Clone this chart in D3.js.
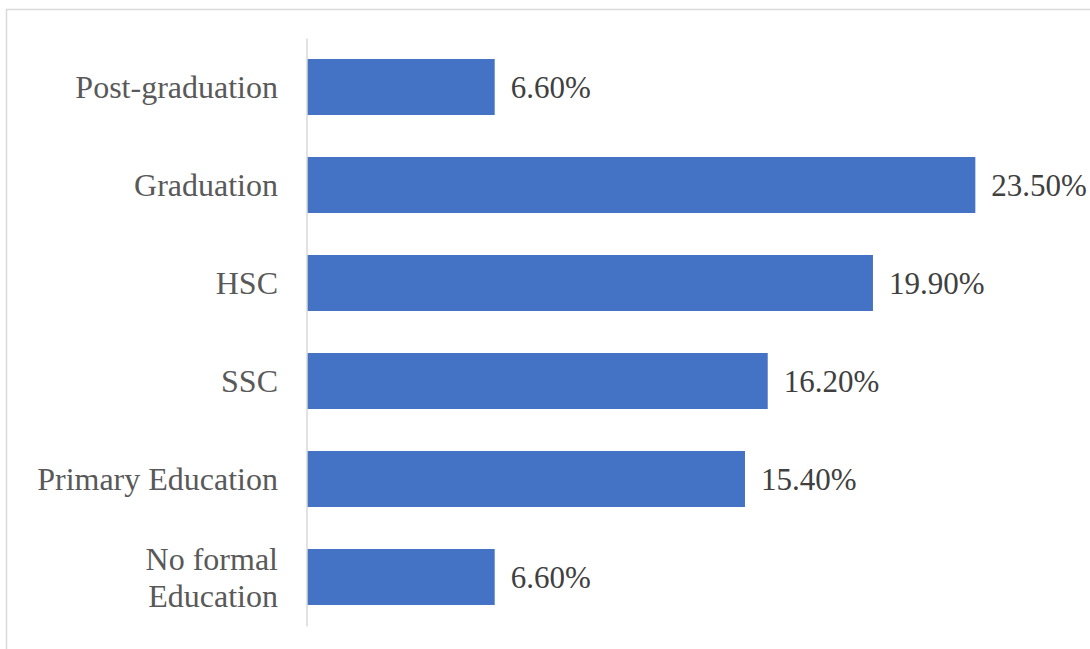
<!DOCTYPE html>
<html>
<head>
<meta charset="utf-8">
<script src="https://cdn.jsdelivr.net/npm/d3@7"></script>
<style>
  html, body { margin: 0; padding: 0; background: #fff; }
  svg { display: block; }
</style>
</head>
<body>
<svg id="chart" width="1090" height="649"></svg>
<script>
// Education level distribution (top to bottom)
const categories = ["Post-graduation", "Graduation", "HSC", "SSC", "Primary Education", "No formal Education"];
const values = [6.6, 23.5, 19.9, 16.2, 15.4, 6.6];
// Category labels broken into lines
const labelLines = [["Post-graduation"], ["Graduation"], ["HSC"], ["SSC"], ["Primary Education"], ["No formal", "Education"]];

const svg = d3.select("#chart");
const fontFamily = "'Liberation Serif', 'Times New Roman', serif";

// Outer chart frame
svg.append("rect")
  .attr("x", 6.5).attr("y", 9.5)
  .attr("width", 1100).attr("height", 660)
  .attr("fill", "none")
  .attr("stroke", "#d9d9d9")
  .attr("stroke-width", 1.5);

const x = d3.scaleLinear().domain([0, 25]).range([307, 1018]);
const y = d3.scaleBand()
  .domain(categories)
  .range([38, 626])
  .paddingInner(0.4286)
  .paddingOuter(0.2143);

// Bars
svg.append("g").selectAll("rect")
  .data(categories)
  .join("rect")
  .attr("x", x(0))
  .attr("y", d => y(d))
  .attr("width", (d, i) => x(values[i]) - x(0))
  .attr("height", y.bandwidth())
  .attr("fill", "#4472c4");

// Category axis line
const axis = d3.axisLeft(y).tickSize(0).tickFormat("");
const axisG = svg.append("g").attr("transform", `translate(${x(0) - 0.5},0)`).call(axis);
axisG.select(".domain").attr("stroke", "#d9d9d9").attr("stroke-width", 1.5);

// Category labels
const lineH = 37;
svg.append("g").selectAll("text")
  .data(categories)
  .join("text")
  .attr("text-anchor", "end")
  .attr("font-family", fontFamily)
  .attr("font-size", 32)
  .attr("fill", "#595959")
  .each(function(d, i) {
    const lines = labelLines[i];
    const cy = y(d) + y.bandwidth() / 2;
    const t = d3.select(this);
    lines.forEach((ln, k) => {
      t.append("tspan")
        .attr("x", 278)
        .attr("y", cy + (k - (lines.length - 1) / 2) * lineH)
        .attr("dy", "0.35em")
        .text(ln);
    });
  });

// Value labels
svg.append("g").selectAll("text")
  .data(categories)
  .join("text")
  .attr("x", (d, i) => x(values[i]) + 16)
  .attr("y", d => y(d) + y.bandwidth() / 2)
  .attr("dy", "0.35em")
  .attr("font-family", fontFamily)
  .attr("font-size", 31)
  .attr("fill", "#404040")
  .text((d, i) => values[i].toFixed(2) + "%");
</script>
</body>
</html>
